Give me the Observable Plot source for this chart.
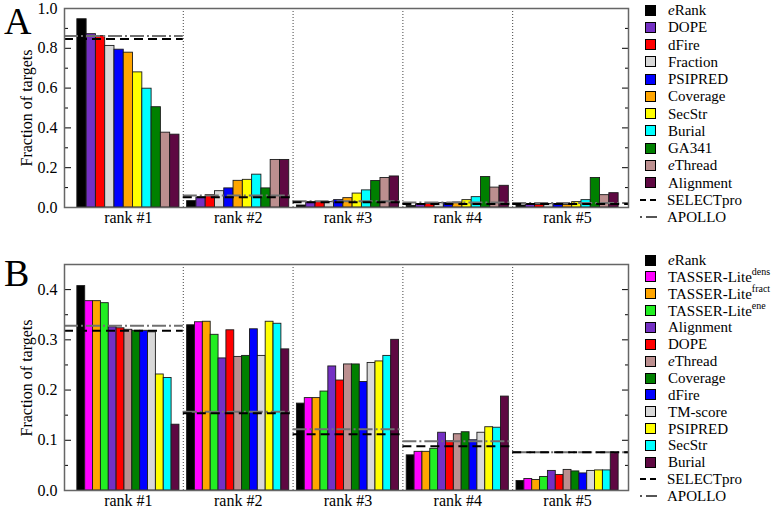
<!DOCTYPE html>
<html><head><meta charset="utf-8">
<script src="https://cdn.jsdelivr.net/npm/d3@7"></script>
<script src="https://cdn.jsdelivr.net/npm/@observablehq/plot@0.6"></script>
<style>
body{margin:0;background:#fff;}
#root{position:relative;width:778px;height:511px;font-family:'Liberation Serif',serif;color:#000;overflow:hidden;}
#root svg, #root svg text{font-family:'Liberation Serif',serif !important;}
.letter{position:absolute;font-size:38px;line-height:1;}
.ytitle{position:absolute;font-size:16px;white-space:nowrap;transform:translate(-50%,-50%) rotate(-90deg);}
.leg{position:absolute;left:640px;font-size:15px;line-height:16px;height:16px;white-space:nowrap;display:flex;align-items:center;}
.sw{width:9px;height:9px;border:1px solid #000;margin-left:5px;margin-right:12px;flex:none;}
.ln{margin-right:10px;flex:none;}
sup{font-size:10px;line-height:0;position:relative;top:-1px;}
</style>
</head><body><div id="root"></div>
<script>
// ---------------- data ----------------
const ranks = [1, 2, 3, 4, 5];
const rankLabels = ["rank #1", "rank #2", "rank #3", "rank #4", "rank #5"];

// Panel A
const seriesA = ["eRank","DOPE","dFire","Fraction","PSIPRED","Coverage","SecStr","Burial","GA341","eThread","Alignment"];
const labelsA = ["<i>e</i>Rank","DOPE","dFire","Fraction","PSIPRED","Coverage","SecStr","Burial","GA341","<i>e</i>Thread","Alignment"];
const colorsA = ["#000000","#7430c4","#ff0000","#d9d9d9","#0000ff","#ffa500","#ffff00","#00ffff","#008000","#bc8f8f","#5e0842"];
const A_rank1 = [0.946,0.871,0.861,0.812,0.793,0.778,0.679,0.597,0.504,0.376,0.366];
const A_rank2 = [0.032,0.050,0.062,0.082,0.096,0.134,0.139,0.165,0.096,0.239,0.239];
const A_rank3 = [0.010,0.025,0.027,0.027,0.037,0.047,0.070,0.086,0.133,0.148,0.156];
const A_rank4 = [0.008,0.017,0.018,0.022,0.022,0.025,0.037,0.052,0.153,0.100,0.109];
const A_rank5 = [0.010,0.015,0.013,0.017,0.017,0.013,0.027,0.037,0.148,0.062,0.072];
const A_selectpro = [0.847,0.052,0.027,0.018,0.017];
const A_apollo    = [0.862,0.060,0.032,0.025,0.022];
const A_ticks = [0, 0.2, 0.4, 0.6, 0.8, 1.0];
const A_minor = [0.1, 0.3, 0.5, 0.7, 0.9];

// Panel B
const seriesB = ["eRank","TASSER-Lite dens","TASSER-Lite fract","TASSER-Lite ene","Alignment","DOPE","eThread","Coverage","dFire","TM-score","PSIPRED","SecStr","Burial"];
const labelsB = ["<i>e</i>Rank","TASSER-Lite<sup>dens</sup>","TASSER-Lite<sup>fract</sup>","TASSER-Lite<sup>ene</sup>","Alignment","DOPE","<i>e</i>Thread","Coverage","dFire","TM-score","PSIPRED","SecStr","Burial"];
const colorsB = ["#000000","#ff00ff","#ffa500","#22ee22","#7430c4","#ff0000","#bc8f8f","#008000","#0000ff","#d9d9d9","#ffff00","#00ffff","#5e0842"];
const B_rank1 = [0.407,0.377,0.377,0.373,0.325,0.323,0.320,0.318,0.318,0.315,0.231,0.224,0.131];
const B_rank2 = [0.329,0.335,0.336,0.310,0.263,0.319,0.266,0.268,0.321,0.268,0.336,0.332,0.281];
const B_rank3 = [0.173,0.184,0.184,0.197,0.247,0.219,0.251,0.251,0.216,0.254,0.257,0.268,0.300];
const B_rank4 = [0.070,0.077,0.077,0.083,0.115,0.098,0.112,0.116,0.100,0.115,0.126,0.125,0.187];
const B_rank5 = [0.019,0.023,0.021,0.027,0.039,0.031,0.041,0.038,0.034,0.039,0.040,0.040,0.075];
const B_selectpro = [0.318,0.154,0.112,0.088,0.076];
const B_apollo    = [0.328,0.157,0.122,0.098,0.076];
const B_ticks = [0, 0.1, 0.2, 0.3, 0.4];
const B_minor = [0.05, 0.15, 0.25, 0.35];

// ---------------- drawing ----------------
const xMin = 0.418, xMax = 5.555, barSpan = 0.93;
const fmt = d3.format(".1f");
const FONT = "'Liberation Serif', serif";

function panel({series, colors, rows, sel, apo, yMax, major, minor, height, mTop, mBottom}) {
  const n = series.length, w = barSpan / n;
  const bars = [];
  rows.forEach((vals, gi) => vals.forEach((v, si) => bars.push({
    series: series[si], value: v,
    x1: ranks[gi] - barSpan / 2 + si * w,
    x2: ranks[gi] - barSpan / 2 + (si + 1) * w
  })));
  const lines = ranks.map((r, i) => ({
    sel: sel[i], apo: apo[i],
    x1: i === 0 ? xMin : r - 0.5,
    x2: i === ranks.length - 1 ? xMax : r + 0.5
  }));
  const blank = () => "";
  return Plot.plot({
    width: 640, height,
    marginLeft: 64, marginRight: 12, marginTop: mTop, marginBottom: mBottom,
    x: {domain: [xMin, xMax]},
    y: {domain: [0, yMax]},
    color: {domain: series, range: colors},
    style: {fontFamily: FONT, fontSize: "16px", background: "transparent", color: "#000"},
    marks: [
      Plot.ruleX([1.5, 2.5, 3.5, 4.5], {stroke: "#444", strokeWidth: 1, strokeDasharray: "1,2"}),
      Plot.rectY(bars, {x1: "x1", x2: "x2", y: "value", fill: "series", stroke: "#1a1a1a", strokeWidth: 0.9}),
      Plot.ruleY(lines, {y: "apo", x1: "x1", x2: "x2", stroke: "#707070", strokeWidth: 2, strokeDasharray: "14,3,2,3"}),
      Plot.ruleY(lines, {y: "sel", x1: "x1", x2: "x2", stroke: "#000", strokeWidth: 2, strokeDasharray: "9,5"}),
      Plot.axisY(major, {anchor: "left", tickSize: 0, tickPadding: 7, tickFormat: fmt, label: null, fontFamily: FONT}),
      Plot.axisY(major, {anchor: "left", tickSize: -7, tickFormat: blank, label: null}),
      Plot.axisY(minor, {anchor: "left", tickSize: -4, tickFormat: blank, label: null}),
      Plot.axisY(major, {anchor: "right", tickSize: -7, tickFormat: blank, label: null}),
      Plot.axisY(minor, {anchor: "right", tickSize: -4, tickFormat: blank, label: null}),
      Plot.axisX(ranks, {anchor: "bottom", tickSize: 0, tickPadding: 4, tickFormat: d => rankLabels[ranks.indexOf(d)], label: null, fontFamily: FONT}),
      Plot.frame({stroke: "#666", strokeWidth: 1.5})
    ]
  });
}

const root = document.getElementById("root");

function place(el, left, top) {
  el.style.position = "absolute"; el.style.left = left + "px"; el.style.top = top + "px";
  el.style.fontFamily = FONT;
  root.appendChild(el);
}

const plotA = panel({series: seriesA, colors: colorsA, rows: [A_rank1, A_rank2, A_rank3, A_rank4, A_rank5],
  sel: A_selectpro, apo: A_apollo, yMax: 1.0, major: A_ticks, minor: A_minor, height: 230, mTop: 8, mBottom: 23});
place(plotA, 0, 0);
const plotB = panel({series: seriesB, colors: colorsB, rows: [B_rank1, B_rank2, B_rank3, B_rank4, B_rank5],
  sel: B_selectpro, apo: B_apollo, yMax: 0.45, major: B_ticks, minor: B_minor, height: 261, mTop: 14, mBottom: 21});
place(plotB, 0, 250);

function addDiv(cls, html, left, top) {
  const d = document.createElement("div");
  d.className = cls; d.innerHTML = html;
  d.style.left = left + "px"; d.style.top = top + "px";
  root.appendChild(d);
}
addDiv("letter", "A", 4, 2);
addDiv("letter", "B", 4, 254);
addDiv("ytitle", "Fraction of targets", 27, 108);
addDiv("ytitle", "Fraction of targets", 27, 378);

const dashSvg = '<svg class="ln" width="17" height="4"><line x1="0" y1="2" x2="17" y2="2" stroke="#000" stroke-width="2" stroke-dasharray="6,4"/></svg>';
const dotDashSvg = '<svg class="ln" width="17" height="4"><line x1="0" y1="2" x2="17" y2="2" stroke="#555" stroke-width="2" stroke-dasharray="2,4,11,0"/></svg>';

function legend(labels, colors, y0, step) {
  labels.forEach((lab, i) => {
    addDiv("leg", `<span class="sw" style="background:${colors[i]}"></span><span>${lab}</span>`, 640, y0 + step * i - 8);
  });
  const k = labels.length;
  addDiv("leg", dashSvg + "<span>SELECTpro</span>", 640, y0 + step * k - 8);
  addDiv("leg", dotDashSvg + "<span>APOLLO</span>", 640, y0 + step * (k + 1) - 8);
}
legend(labelsA, colorsA, 10, 17.25);
legend(labelsB, colorsB, 260, 16.86);
</script>
</body></html>
